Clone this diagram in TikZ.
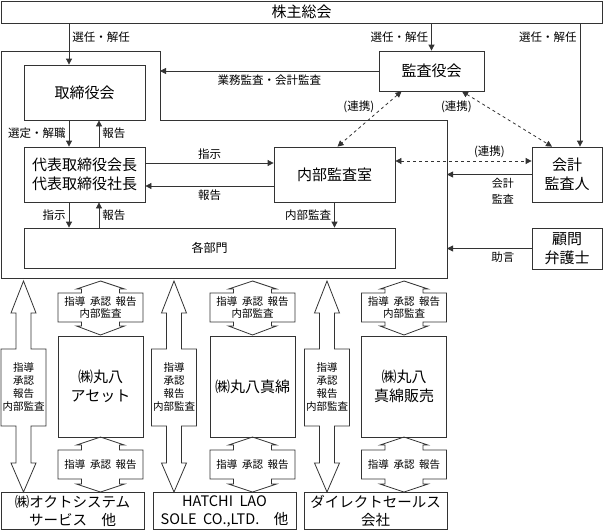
\documentclass[tikz,border=0pt]{standalone}
\usepackage{fontspec}
\setmainfont{Noto Sans CJK JP}[WordSpace=2]
\usetikzlibrary{arrows.meta}

\begin{document}
\begin{tikzpicture}[x=1pt, y=-1pt,
    box/.style={draw=black!80, line width=0.8pt, align=center, inner sep=0pt, minimum width=121pt, minimum height=55pt, font=\fontsize{15}{19}\selectfont},
    arr/.style={draw=black!80, line width=0.8pt, -{Triangle[length=6pt,width=6pt]}},
    link/.style={arr, dashed, {Triangle[length=6pt,width=6pt]}-{Triangle[length=6pt,width=6pt]}},
    lbl/.style={font=\fontsize{11.5}{16}\selectfont, inner sep=3pt, align=center},
    flow/.style={draw=black!80, line width=0.8pt},
    note/.style={font=\fontsize{10.5}{11.5}\selectfont, align=center, inner sep=0pt}]

  \useasboundingbox (0,0) rectangle (604,530);

  % head office
  \node[box, minimum width=601pt, minimum height=22pt] (meeting) at (301.5,12) {株主総会};
  \node[box] (board) at (84.5,92.5) {取締役会};
  \node[box, minimum width=105pt, minimum height=40pt] (auditors) at (431.5,71) {監査役会};
  \node[box] (ceo) at (84.5,174.5) {代表取締役会長\\代表取締役社長};
  \node[box] (internal) at (334.5,174.5) {内部監査室};
  \node[box, minimum width=371pt, minimum height=40pt, font=\fontsize{12}{14}\selectfont] (depts) at (209.5,248) {各部門};
  \node[box, minimum width=70pt] (cpa) at (567,174.5) {会計\\監査人};
  \node[box, minimum width=70pt, minimum height=41pt] (lawyer) at (567,248.5) {顧問\\弁護士};

  % frame round the company
  \coordinate (fa) at (1,51);
  \coordinate (fb) at (160,51);
  \coordinate (fc) at (160,120);
  \coordinate (fd) at (447,120);
  \coordinate (fe) at (447,278);
  \coordinate (ff) at (1,278);
  \draw[flow] (fa) -- (fb) -- (fc) -- (fd) -- (fe) -- (ff) -- cycle;

  \coordinate (dn) at (69,0);
  \coordinate (up) at (99,0);
  \coordinate (cpax) at (580,0);

  \draw[arr] (meeting.south -| dn) -- node[lbl, right, pos=0.33] {選任・解任} (board.north -| dn);
  \draw[arr] (meeting.south -| auditors.north) -- node[lbl, left] {選任・解任} (auditors.north);
  \draw[arr] (meeting.south -| cpax) -- node[lbl, left, pos=0.11] {選任・解任} (cpa.north -| cpax);
  \draw[arr] (auditors.west) -- node[lbl, below] {業務監査・会計監査} (auditors.west -| fb);

  \draw[link] ([xshift=-30pt]auditors.south) -- node[lbl, left, pos=0.28, xshift=-6pt] {(連携)} ([xshift=3pt]internal.north);
  \draw[link] ([xshift=30.5pt]auditors.south) -- node[lbl, left, pos=0.28, xshift=-12pt] {(連携)} ([xshift=-15pt]cpa.north);
  \draw[link] ([yshift=13.5pt]internal.east) -- node[lbl, above, pos=0.69] {(連携)} ([yshift=13.5pt]cpa.west);
  \draw[arr] (cpa.west) -- node[lbl, below, pos=0.34, font=\fontsize{11}{16}\selectfont] {会計\\監査} (cpa.west -| fd);
  \draw[arr] (lawyer.west) -- node[lbl, below, pos=0.34] {助言} (lawyer.west -| fd);

  \draw[arr] (board.south -| dn) -- node[lbl, left] {選定・解職} (ceo.north -| dn);
  \draw[arr] (ceo.north -| up) -- node[lbl, right] {報告} (board.south -| up);
  \draw[arr] ([yshift=11.5pt]ceo.east) -- node[lbl, above] {指示} ([yshift=11.5pt]internal.west);
  \draw[arr] ([yshift=-11.5pt]internal.west) -- node[lbl, below] {報告} ([yshift=-11.5pt]ceo.east);
  \draw[arr] (ceo.south -| dn) -- node[lbl, left] {指示} (depts.north -| dn);
  \draw[arr] (depts.north -| up) -- node[lbl, right] {報告} (ceo.south -| up);
  \draw[arr] (internal.south) -- node[lbl, left] {内部監査} (internal.south |- depts.north);

  % group companies
  \node[box, minimum width=85pt, minimum height=101pt] (asset) at (100.5,386.5) {㈱丸八\\アセット};
  \node[box, minimum width=85pt, minimum height=101pt] (mawata) at (252.5,386.5) {㈱丸八真綿};
  \node[box, minimum width=85pt, minimum height=101pt] (hanbai) at (404,386.5) {㈱丸八\\真綿販売};
  \node[box, minimum width=143pt, minimum height=37pt, font=\fontsize{14.5}{18}\selectfont] (octo) at (72.5,511) {㈱オクトシステム\\サービス　他};
  \node[box, minimum width=143pt, minimum height=37pt, font=\fontsize{14.5}{18}\selectfont] (hatchi) at (224.5,511) {HATCHI LAO\\SOLE CO.,LTD.　他};
  \node[box, minimum width=143pt, minimum height=37pt, font=\fontsize{14.5}{18}\selectfont] (direct) at (375.5,511) {ダイレクトセールス\\会社};

  \foreach \cx/\fx/\i in {100.5/23.5/1, 252.5/174/2, 404/327/3} {
    % long arrow
    \draw[flow] (\fx,281) -- (\fx+12.5,313) -- (\fx+7.5,313) -- (\fx+7.5,349) -- (\fx+22.5,349) -- (\fx+22.5,426) -- (\fx+7.5,426) -- (\fx+7.5,463) -- (\fx+12.5,463) -- (\fx,492) -- (\fx-12.5,463) -- (\fx-7.5,463) -- (\fx-7.5,426) -- (\fx-22.5,426) -- (\fx-22.5,349) -- (\fx-7.5,349) -- (\fx-7.5,313) -- (\fx-12.5,313) -- cycle;
    \node[note, font=\fontsize{10.5}{13}\selectfont] (wide-\i) at (\fx,387.5) {指導\\承認\\報告\\内部監査};
    % short arrows
    \draw[flow] (\cx,281) -- (\cx+24,289) -- (\cx+19,289) -- (\cx+19,293) -- (\cx+42.5,293) -- (\cx+42.5,322) -- (\cx+19,322) -- (\cx+19,326) -- (\cx+24,326) -- (\cx,335) -- (\cx-24,326) -- (\cx-19,326) -- (\cx-19,322) -- (\cx-42.5,322) -- (\cx-42.5,293) -- (\cx-19,293) -- (\cx-19,289) -- (\cx-24,289) -- cycle;
    \node[note] (upper-\i) at (\cx,307.5) {指導 承認 報告\\内部監査};
    \draw[flow] (\cx,437) -- (\cx+24,445) -- (\cx+19,445) -- (\cx+19,450) -- (\cx+42.5,450) -- (\cx+42.5,479) -- (\cx+19,479) -- (\cx+19,484) -- (\cx+24,484) -- (\cx,492) -- (\cx-24,484) -- (\cx-19,484) -- (\cx-19,479) -- (\cx-42.5,479) -- (\cx-42.5,450) -- (\cx-19,450) -- (\cx-19,445) -- (\cx-24,445) -- cycle;
    \node[note] (lower-\i) at (\cx,464.5) {指導 承認 報告};
  }
\end{tikzpicture}
\end{document}
